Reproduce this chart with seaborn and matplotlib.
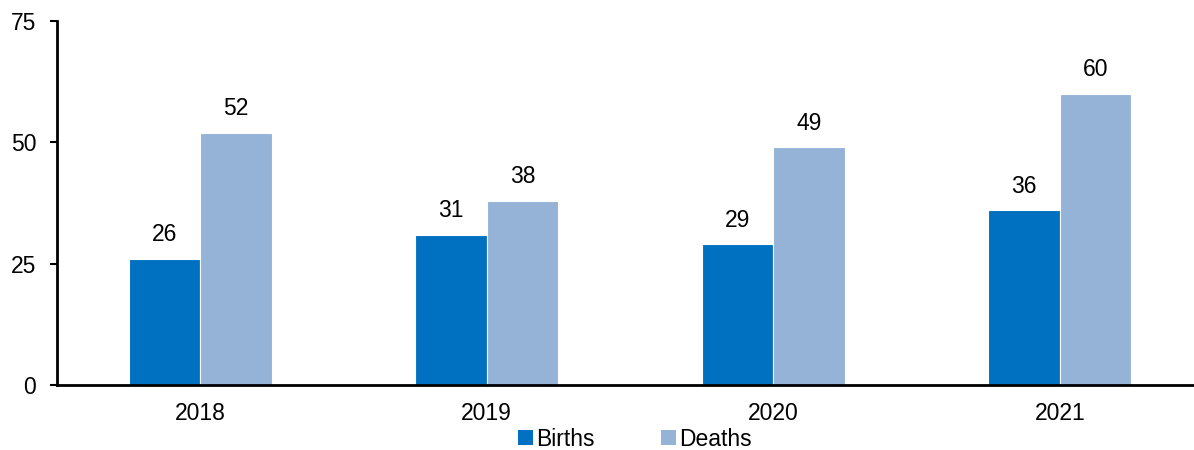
import matplotlib
matplotlib.use("Agg")
import matplotlib.pyplot as plt
import pandas as pd
import seaborn as sns

years = ["2018", "2019", "2020", "2021"]
births = [26, 31, 29, 36]
deaths = [52, 38, 49, 60]
series = ["Births", "Deaths"]
colors = ["#0070C0", "#95B3D7"]

df = pd.DataFrame({"Year": years * 2,
                   "Series": ["Births"] * 4 + ["Deaths"] * 4,
                   "Value": births + deaths})

sns.set_style("white")
plt.rcParams["font.family"] = ["Liberation Sans", "DejaVu Sans"]
plt.rcParams["text.color"] = "black"
plt.rcParams["xtick.color"] = "black"
plt.rcParams["ytick.color"] = "black"

fs = 16.5
fig = plt.figure(figsize=(11.94, 4.5), dpi=100)
ax = fig.add_axes([57 / 1194, 65 / 450, 1146 / 1194, 364 / 450])

sns.barplot(data=df, x="Year", y="Value", hue="Series", palette=colors,
            saturation=1, width=0.5, edgecolor="white", linewidth=0.8, ax=ax)

for cont in ax.containers:
    ax.bar_label(cont, labels=[f"{v:.0f}" for v in cont.datavalues],
                 padding=9, fontsize=fs, color="black")

ax.set_ylim(0, 75)
ax.set_yticks([0, 25, 50, 75])
ax.set_xlim(-0.5, 3.5)
ax.set_xlabel("")
ax.set_ylabel("")
ax.tick_params(axis="y", labelsize=fs, length=5, width=1.5, direction="out",
               left=True, pad=10)
ax.tick_params(axis="x", labelsize=fs, length=0, pad=12)
for s in ["top", "right"]:
    ax.spines[s].set_visible(False)
for s in ["left", "bottom"]:
    ax.spines[s].set_color("black")
    ax.spines[s].set_linewidth(2)

handles, labels = ax.get_legend_handles_labels()
ax.legend(handles, labels, loc="center", bbox_to_anchor=(635 / 1194, 11 / 450),
          bbox_transform=fig.transFigure, ncol=2, frameon=False, fontsize=fs,
          handlelength=0.65, handleheight=0.65, handletextpad=0.15,
          columnspacing=2.9, borderpad=0)
for h in ax.get_legend().legend_handles:
    h.set_edgecolor("none")

fig.savefig("out.png", dpi=100)
